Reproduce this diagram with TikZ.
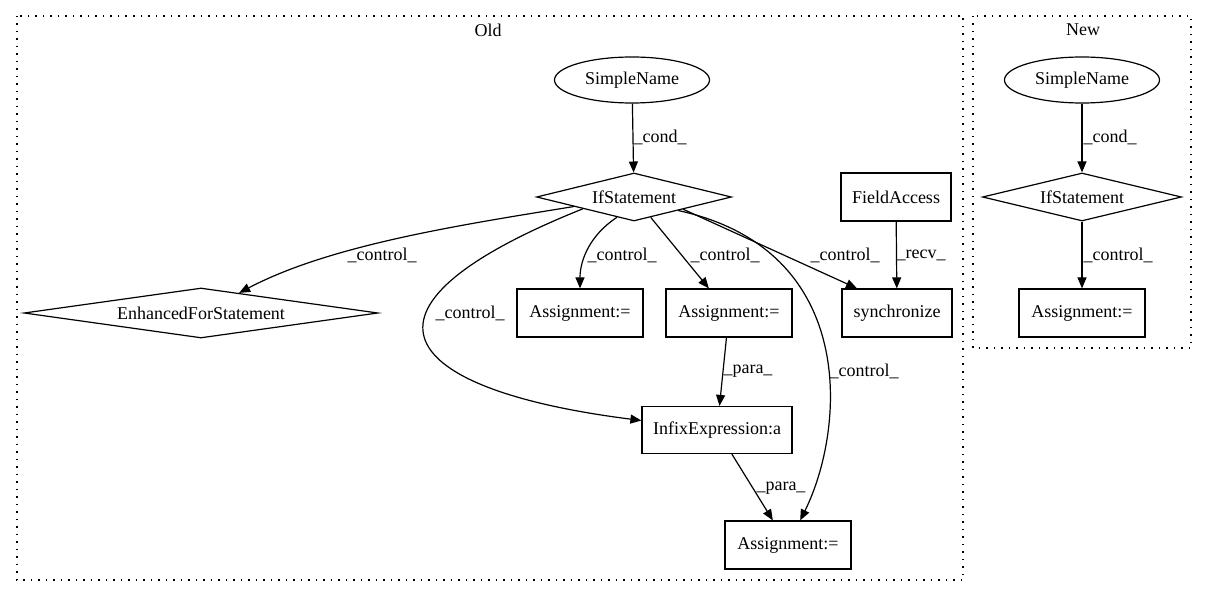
\documentclass[tikz,border=0pt]{standalone}
\usepackage{fontspec}
\setmainfont{Liberation Serif}
\usetikzlibrary{arrows.meta, shapes.geometric}

\begin{document}
\begin{tikzpicture}[x=1pt, y=-1pt,
	every node/.style={font=\fontsize{18}{21}\selectfont, inner sep=0pt},
	box/.style={draw, line width=1.2pt, rectangle, minimum height=48pt},
	diam/.style={draw, line width=1.2pt, diamond, minimum height=48pt},
	oval/.style={draw, line width=1.2pt, ellipse, minimum width=155pt, minimum height=46pt},
	edge/.style={line width=1.2pt, -{Triangle[length=11pt, width=9pt]}},
	lbl/.style={},
	cluster/.style={line width=1.2pt, dash pattern=on 1.5pt off 6pt}]

	\useasboundingbox (0, 0) rectangle (1208, 596);

	% clusters
	\draw[cluster] (17, 16) rectangle (963, 580); % Old
	\node (tOld) at (488, 30) {Old};
	\draw[cluster] (973, 16) rectangle (1191, 348); % New
	\node (tNew) at (1083, 30) {New};

	% old nodes
	\node[oval] (SNo) at (632, 80) {SimpleName};
	\node[diam, shape aspect=3.4, minimum width=195pt] (IFo) at (634, 197) {IfStatement};
	\node[diam, shape aspect=7.08, minimum width=354pt, minimum height=50pt] (EFS) at (201, 313) {EnhancedForStatement};
	\node[box, minimum width=126pt] (As1) at (580, 313) {Assignment:=};
	\node[box, minimum width=126pt] (As2) at (729, 313) {Assignment:=};
	\node[box, minimum width=110pt] (FA) at (896, 197) {FieldAccess};
	\node[box, minimum width=110pt] (Syn) at (897, 313) {synchronize};
	\node[box, minimum width=150pt, minimum height=47pt] (Inf) at (717, 430) {InfixExpression:a};
	\node[box, minimum width=126pt] (As3) at (788, 545) {Assignment:=};

	% new nodes
	\node[oval] (SNn) at (1082, 80) {SimpleName};
	\node[diam, shape aspect=3.45, minimum width=199pt] (IFn) at (1082, 197) {IfStatement};
	\node[box, minimum width=126pt] (Asn) at (1082, 313) {Assignment:=};

	% old edges
	\draw[edge] (SNo) -- (IFo) node[lbl] at (660, 137) {\_cond\_};
	\draw[edge] (IFo.189) .. controls (460, 225) and (330, 245) .. (EFS) node[lbl] at (382, 255) {\_control\_};
	\draw[edge] (IFo.230) .. controls (590, 235) and (580, 260) .. (As1) node[lbl] at (622, 255) {\_control\_};
	\draw[edge] (IFo) -- (As2) node[lbl] at (725, 255) {\_control\_};
	\draw[edge] (IFo.-14) -- ([xshift=-40pt]Syn.north) node[lbl] at (845, 255) {\_control\_};
	\draw[edge] (IFo.193) .. controls (330, 310) and (400, 390) .. (Inf) node[lbl] at (470, 313) {\_control\_};
	\draw[edge] (IFo.-17) .. controls (860, 250) and (845, 430) .. (As3) node[lbl] at (864, 371) {\_control\_};
	\draw[edge] (FA) -- (Syn) node[lbl] at (921, 255) {\_recv\_};
	\draw[edge] (As2) -- (Inf) node[lbl] at (748, 371) {\_para\_};
	\draw[edge] (Inf) -- (As3) node[lbl] at (781, 488) {\_para\_};

	% new edges
	\draw[edge] (SNn) -- (IFn) node[lbl] at (1110, 137) {\_cond\_};
	\draw[edge] (IFn) -- (Asn) node[lbl] at (1118, 255) {\_control\_};

\end{tikzpicture}
\end{document}
